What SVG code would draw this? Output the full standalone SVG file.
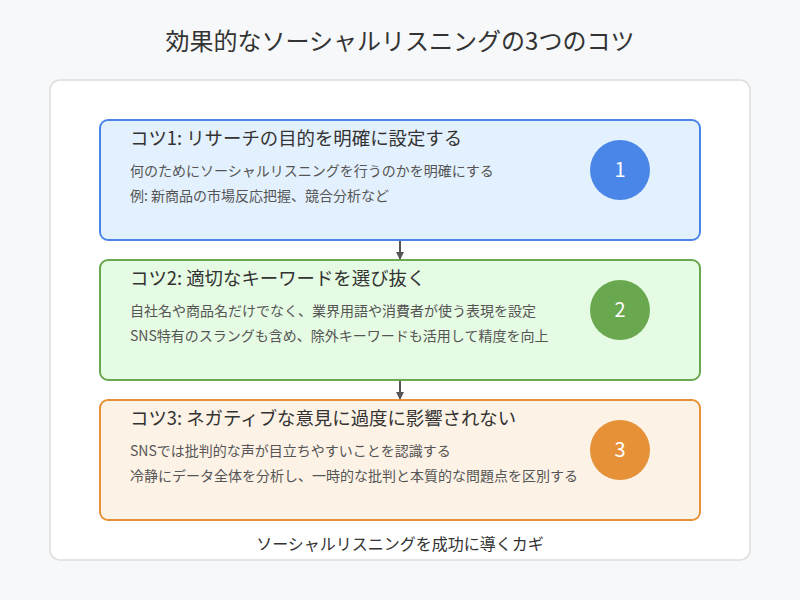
<svg xmlns="http://www.w3.org/2000/svg" width="800" height="600" viewBox="0 0 800 600">
<style>
text{font-family:"Noto Sans CJK JP","Noto Sans",sans-serif;}
.title{font-size:24px;fill:#333;}
.h{font-size:18.4px;fill:#333;}
.b{font-size:14px;fill:#555;}
.num{font-size:20px;fill:#fff;}
.foot{font-size:16px;fill:#333;}
.conn{stroke:#555;stroke-width:2;fill:none;}
</style>
<defs>
<marker id="arr" markerWidth="8" markerHeight="8" refX="7" refY="4" orient="auto" markerUnits="userSpaceOnUse">
<path d="M0,0 L8,4 L0,8 Z" fill="#555"/>
</marker>
</defs>
<rect width="800" height="600" fill="#f7f8fa"/>
<text class="title" x="400" y="50" text-anchor="middle">効果的なソーシャルリスニングの3つのコツ</text>
<rect x="50" y="80" width="700" height="480" rx="10" fill="#fff" stroke="#dddddd" stroke-width="1.5"/>
<g id="connectors">
<line class="conn" x1="400" y1="240" x2="400" y2="259" marker-end="url(#arr)"/>
<line class="conn" x1="400" y1="380" x2="400" y2="399" marker-end="url(#arr)"/>
</g>
<g id="tip1">
<rect x="100" y="120" width="600" height="120" rx="8" fill="#e3f0fd" stroke="#4a86e8" stroke-width="2"/>
<text class="h" x="130" y="145">コツ1: リサーチの目的を明確に設定する</text>
<text class="b" x="130" y="176">何のためにソーシャルリスニングを行うのかを明確にする</text>
<text class="b" x="130" y="201">例: 新商品の市場反応把握、競合分析など</text>
<circle cx="620" cy="170" r="30" fill="#4a86e8"/>
<text class="num" x="620" y="177" text-anchor="middle">1</text>
</g>
<g id="tip2">
<rect x="100" y="260" width="600" height="120" rx="8" fill="#e5fbe3" stroke="#6aa84f" stroke-width="2"/>
<text class="h" x="130" y="285">コツ2: 適切なキーワードを選び抜く</text>
<text class="b" x="130" y="316">自社名や商品名だけでなく、業界用語や消費者が使う表現を設定</text>
<text class="b" x="130" y="341">SNS特有のスラングも含め、除外キーワードも活用して精度を向上</text>
<circle cx="620" cy="310" r="30" fill="#6aa84f"/>
<text class="num" x="620" y="317" text-anchor="middle">2</text>
</g>
<g id="tip3">
<rect x="100" y="400" width="600" height="120" rx="8" fill="#fdf2e6" stroke="#e69138" stroke-width="2"/>
<text class="h" x="130" y="425">コツ3: ネガティブな意見に過度に影響されない</text>
<text class="b" x="130" y="456">SNSでは批判的な声が目立ちやすいことを認識する</text>
<text class="b" x="130" y="481">冷静にデータ全体を分析し、一時的な批判と本質的な問題点を区別する</text>
<circle cx="620" cy="450" r="30" fill="#e69138"/>
<text class="num" x="620" y="457" text-anchor="middle">3</text>
</g>
<text class="foot" x="400" y="550" text-anchor="middle">ソーシャルリスニングを成功に導くカギ</text>
</svg>
